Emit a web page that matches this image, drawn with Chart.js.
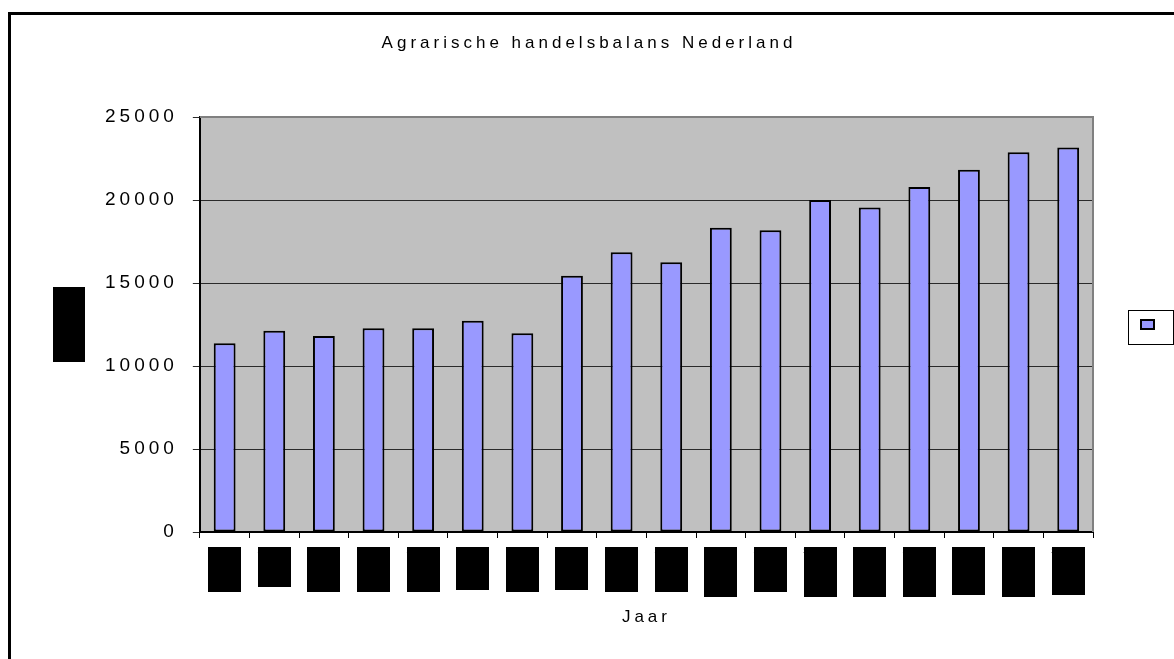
<!DOCTYPE html>
<html>
<head>
<meta charset="utf-8">
<script src="https://cdn.jsdelivr.net/npm/chart.js@4/dist/chart.umd.min.js"></script>
<style>
  html, body { margin: 0; padding: 0; background: #fff; }
  #wrap { width: 1174px; height: 659px; }
</style>
</head>
<body>
<div id="wrap"><canvas id="balansChart" width="1174" height="659"></canvas></div>
<script>
// Agrarische handelsbalans Nederland - staafdiagram

// Gegevens
const jaren = ['1990', '1991', '1992', '1993', '1994', '1995', '1996', '1997', '1998',
               '1999', '2000', '2001', '2002', '2003', '2004', '2005', '2006', '2007'];
const waarden = [11370, 12120, 11810, 12280, 12270, 12720, 11980, 15440, 16850,
                 16250, 18330, 18180, 20000, 19550, 20780, 21820, 22880, 23160];
const yTicks = [0, 5000, 10000, 15000, 20000, 25000];

const titel = 'Agrarische handelsbalans Nederland';
const xTitel = 'Jaar';
const yTitel = 'mln euro';

// Stijl
const fontFam = "'Liberation Sans', Arial, sans-serif";
// hoogte van de zwarte labelvlakken onder de as (zoals in het origineel)
const labelBoxH = [45, 40, 45, 45, 45, 43, 45, 43, 45, 45, 50, 45, 50, 50, 50, 48, 50, 48];
const yTitelOffset = 45;

// Letterafstand zoals in het origineel (breed gezette tekst)
function setSpacing(chart) {
    chart.ctx.letterSpacing = '4px';
}

const achtergrond = {
    id: 'achtergrond',
    beforeUpdate: setSpacing,
    beforeLayout: setSpacing,
    beforeDraw(chart) {
        const { ctx, chartArea: a, scales } = chart;
        ctx.save();
        ctx.fillStyle = '#fff';
        ctx.fillRect(0, 0, chart.width, chart.height);
        // kader
        ctx.fillStyle = '#000';
        ctx.fillRect(8, 12, 3, chart.height - 12);
        ctx.fillRect(8, 12, chart.width - 8, 3);
        // plotvlak
        ctx.fillStyle = '#c0c0c0';
        ctx.fillRect(a.left, a.top, a.right - a.left, a.bottom - a.top);
        // zwart vlak achter de y-as titel
        ctx.fillStyle = '#000';
        const ys = scales.y;
        const cx = ys.left + yTitelOffset + 16;
        const cy = (a.top + a.bottom) / 2;
        ctx.fillRect(cx - 16, cy - 37.5, 32, 75);
        // zwarte vlakken achter de x-as labels
        const xs = scales.x;
        xs.ticks.forEach((t, i) => {
            const px = xs.getPixelForTick(i);
            ctx.fillRect(Math.round(px - 16.5), Math.round(xs.top + 15), 33, labelBoxH[i]);
        });
        ctx.restore();
        setSpacing(chart);
    },
    afterDraw(chart) {
        const { ctx, chartArea: a } = chart;
        ctx.save();
        ctx.strokeStyle = '#808080';
        ctx.lineWidth = 2;
        ctx.beginPath();
        ctx.moveTo(a.left, a.top);
        ctx.lineTo(a.right, a.top);
        ctx.lineTo(a.right, a.bottom);
        ctx.stroke();
        // kader om legenda
        const hb = chart.legend.legendHitBoxes[0];
        if (hb) {
            ctx.strokeStyle = '#000';
            ctx.lineWidth = 1;
            ctx.strokeRect(Math.round(hb.left - 13) + 0.5, Math.round(hb.top - 9) + 0.5, 45, 34);
        }
        ctx.restore();
    }
};

const ctx = document.getElementById('balansChart').getContext('2d');
new Chart(ctx, {
    type: 'bar',
    data: {
        labels: jaren,
        datasets: [{
            label: '',
            data: waarden,
            backgroundColor: '#9999ff',
            borderColor: '#000',
            borderWidth: 2,
            borderSkipped: false,
            barPercentage: 0.44,
            categoryPercentage: 1
        }]
    },
    options: {
        responsive: false,
        animation: false,
        devicePixelRatio: 1,
        layout: { padding: { left: 8, top: 30, right: 4, bottom: 31 } },
        plugins: {
            title: {
                display: true,
                text: titel,
                color: '#000',
                font: { family: fontFam, size: 17, weight: 'normal', lineHeight: 1.2 },
                padding: { top: 3, bottom: 63.6 }
            },
            legend: {
                position: 'right',
                fullSize: false,
                labels: {
                    boxWidth: 13,
                    boxHeight: 9,
                    padding: 48,
                    color: '#000',
                    font: { family: fontFam, size: 12 }
                }
            },
            tooltip: { enabled: false }
        },
        scales: {
            x: {
                grid: {
                    drawOnChartArea: false,
                    color: '#000',
                    tickLength: 6
                },
                border: { color: '#000', width: 2 },
                ticks: {
                    color: '#000',
                    font: { family: fontFam, size: 8, lineHeight: 1 },
                    padding: 9,
                    maxRotation: 0,
                    autoSkip: false
                },
                title: {
                    display: true,
                    text: xTitel,
                    color: '#000',
                    font: { family: fontFam, size: 17, lineHeight: 1.2 },
                    padding: { top: 43.6, bottom: 0 }
                }
            },
            y: {
                min: 0,
                max: 25000,
                afterBuildTicks: (s) => { s.ticks = yTicks.map(v => ({ value: v })); },
                grid: {
                    color: '#2a2a2a',
                    lineWidth: 1,
                    tickLength: 7
                },
                border: { color: '#000', width: 2 },
                ticks: {
                    color: '#000',
                    font: { family: fontFam, size: 19 },
                    padding: 15,
                    callback: (v) => String(v)
                },
                title: {
                    display: true,
                    text: yTitel,
                    color: '#000',
                    font: { family: fontFam, size: 10, lineHeight: 3.2 },
                    padding: { top: yTitelOffset, bottom: 5 }
                }
            }
        }
    },
    plugins: [achtergrond]
});
</script>
</body>
</html>
